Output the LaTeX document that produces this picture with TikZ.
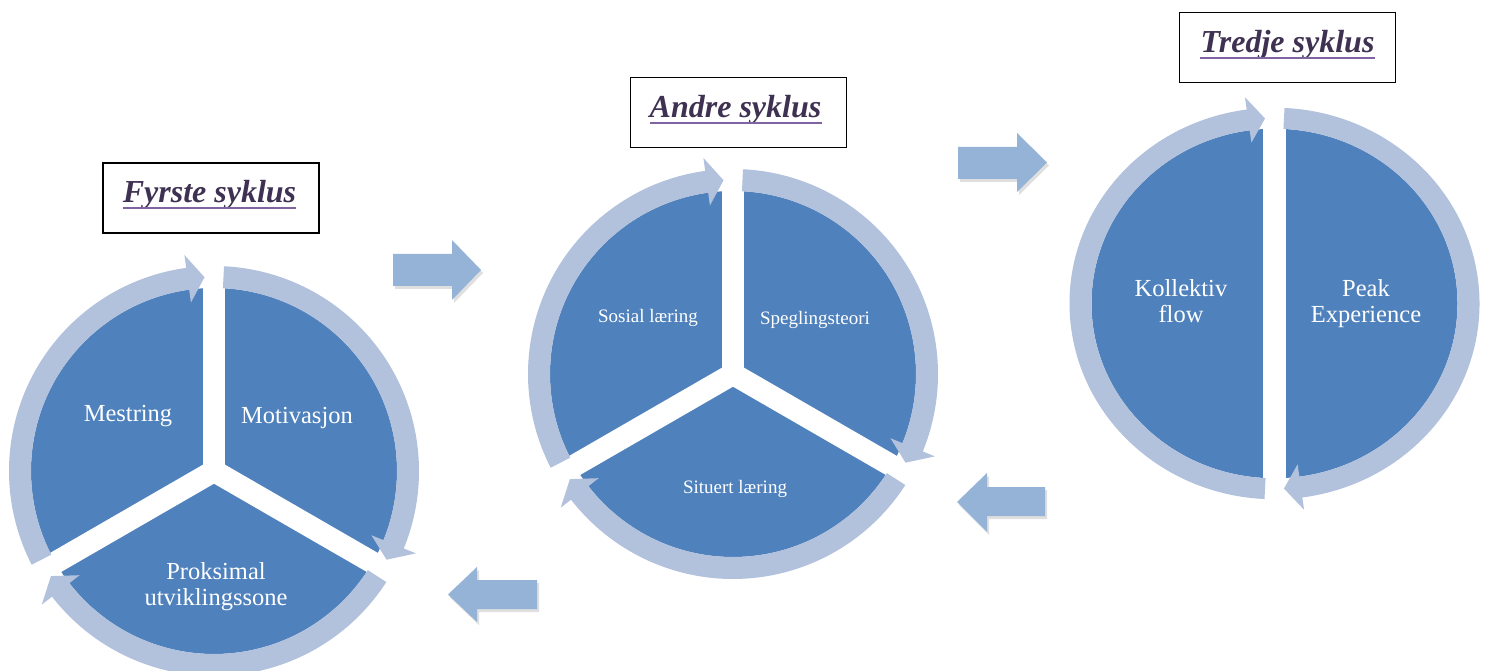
\documentclass[tikz,border=0pt]{standalone}
\usepackage{fontspec}
\setmainfont{Liberation Serif}
\usetikzlibrary{shadows,calc}
\definecolor{pieblue}{HTML}{4F81BD}
\definecolor{ringblue}{HTML}{B2C1DC}
\definecolor{blockblue}{HTML}{95B3D7}
\definecolor{titlepurple}{HTML}{3F3151}
\definecolor{ulpurple}{HTML}{8064A2}
\tikzset{
  pie/.style={fill=pieblue},
  gapline/.style={draw=white, line width=22pt},
  ring/.style={fill=ringblue},
  blockarrow/.style={fill=blockblue, drop shadow={shadow xshift=2pt, shadow yshift=-3pt, opacity=0.25}},
  titlebox/.style={draw=black, line width=1.1pt, fill=white, minimum width=216pt, minimum height=70pt, inner sep=0pt},
  titletext/.style={font=\fontsize{32}{36}\selectfont\bfseries\itshape, text=titlepurple, inner sep=0pt, anchor=base},
  uline/.style={draw=ulpurple, line width=2.5pt},
  lbl/.style={text=white, inner sep=0pt, anchor=base, font=\fontsize{24.5}{26}\selectfont},
  lblsmall/.style={text=white, inner sep=0pt, anchor=base, font=\fontsize{19}{22}\selectfont},
}
\newcommand{\myringarrow}[2]{%
  \pgfmathsetmacro{\myrb}{#2+5}%
  \fill[ring] (#1:183) arc[start angle=#1, end angle=\myrb, radius=183]
    -- (\myrb:170) -- (#2:194) -- (\myrb:218) -- (\myrb:205)
    arc[start angle=\myrb, end angle=#1, radius=205] -- cycle;}
\begin{document}
\begin{tikzpicture}[x=1pt,y=1pt]
\useasboundingbox (0,0) rectangle (1488,670);
\fill[white] (0,0) rectangle (1488,670);

% ---------- cycle 1 ----------
\begin{scope}[shift={(214,199)}]
  \fill[pie] (0,0) circle[radius=183];
  \draw[gapline] (0,0) -- (90:186);
  \draw[gapline] (0,0) -- (210:186);
  \draw[gapline] (0,0) -- (330:186);
  \myringarrow{207.2}{92.8}
  \myringarrow{87.2}{-27.2}
  \myringarrow{-32.8}{-147.2}
\end{scope}
\node[lbl] (c1a) at (128,249) {Mestring};
\node[lbl] (c1b) at (297,247) {Motivasjon};
\node[lbl] (c1c) at (216,91) {Proksimal};
\node[lbl] (c1d) at (216,65) {utviklingssone};

% ---------- cycle 2 ----------
\begin{scope}[shift={(733,296)}]
  \fill[pie] (0,0) circle[radius=183];
  \draw[gapline] (0,0) -- (90:186);
  \draw[gapline] (0,0) -- (210:186);
  \draw[gapline] (0,0) -- (330:186);
  \myringarrow{207.2}{92.8}
  \myringarrow{87.2}{-27.2}
  \myringarrow{-32.8}{-147.2}
\end{scope}
\node[lblsmall] (c2a) at (648,347) {Sosial læring};
\node[lblsmall] (c2b) at (815,345) {Speglingsteori};
\node[lblsmall] (c2c) at (735,177) {Situert læring};

% ---------- cycle 3 ----------
\begin{scope}[shift={(1274.5,366.5)}, yscale=0.955]
  \fill[pie] (0,0) circle[radius=183];
  \draw[gapline, line width=23pt] (270:186) -- (90:186);
  \myringarrow{267.2}{92.8}
  \myringarrow{87.2}{-87.2}
\end{scope}
\node[lbl] (c3a) at (1181,373) {Kollektiv};
\node[lbl] (c3b) at (1181,347) {flow};
\node[lbl] (c3c) at (1366,373) {Peak};
\node[lbl] (c3d) at (1366,347) {Experience};

% ---------- titles ----------
\node[titlebox] (box1) at (211,472) {};
\node[titletext] (t1) at (209.5,467) {Fyrste syklus};
\draw[uline] ($(t1.base west)+(0,-5)$) -- ($(t1.base east)+(0,-5)$);

\node[titlebox] (box2) at (738.5,557.5) {};
\node[titletext] (t2) at (735.5,552) {Andre syklus};
\draw[uline] ($(t2.base west)+(0,-5)$) -- ($(t2.base east)+(0,-5)$);

\node[titlebox] (box3) at (1287.5,622.5) {};
\node[titletext] (t3) at (1287.5,617) {Tredje syklus};
\draw[uline] ($(t3.base west)+(0,-5)$) -- ($(t3.base east)+(0,-5)$);

% ---------- block arrows ----------
\fill[blockarrow] (393,384) -- (452,384) -- (452,370) -- (481,400) -- (452,430) -- (452,416) -- (393,416) -- cycle;
\fill[blockarrow] (958,491) -- (1017,491) -- (1017,478) -- (1047,507.5) -- (1017,537) -- (1017,523) -- (958,523) -- cycle;
\fill[blockarrow] (537,61) -- (477,61) -- (477,48) -- (448,75.5) -- (477,103) -- (477,90) -- (537,90) -- cycle;
\fill[blockarrow] (1045,154) -- (987,154) -- (987,138) -- (957,168) -- (987,197) -- (987,183) -- (1045,183) -- cycle;
\end{tikzpicture}
\end{document}
